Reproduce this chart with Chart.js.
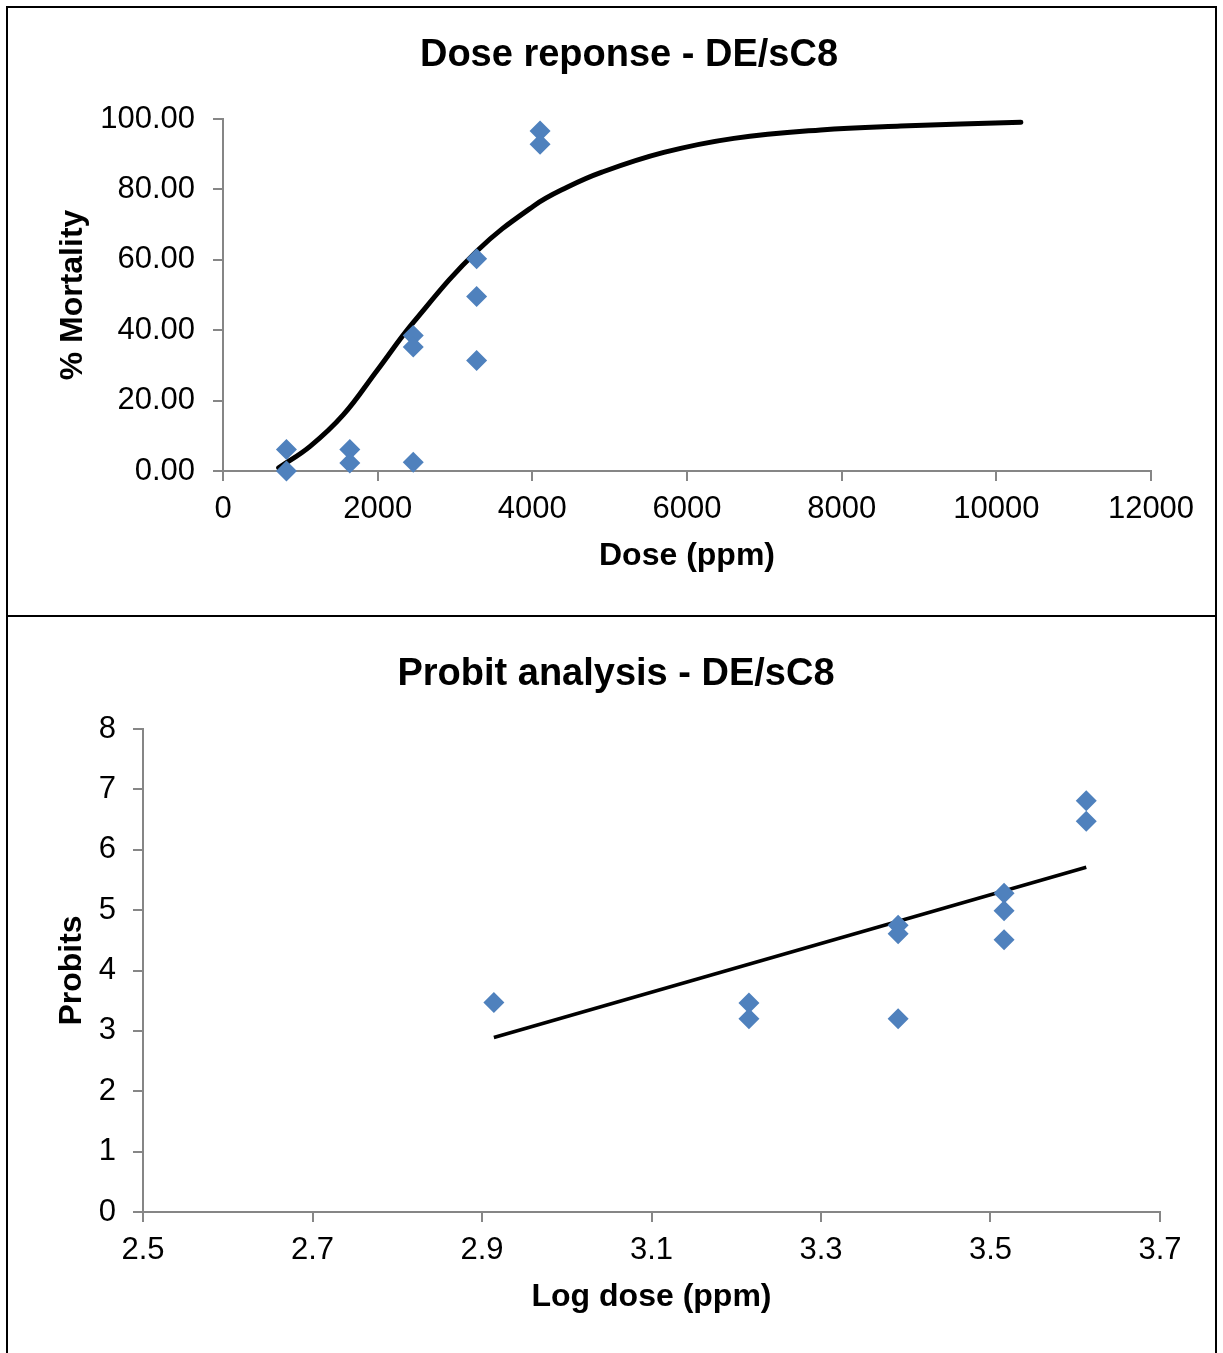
<!DOCTYPE html>
<html>
<head>
<meta charset="utf-8">
<script src="https://cdn.jsdelivr.net/npm/chart.js@4.4.1/dist/chart.umd.min.js"></script>
<style>
  html, body { margin:0; padding:0; background:#fff; width:1223px; height:1353px; overflow:hidden; }
  canvas { position:absolute; left:0; }
  #c1 { top:0; }
  #c2 { top:616px; }
  .frame { position:absolute; left:6px; top:6px; width:1211px; height:1400px; border:2px solid #000; box-sizing:border-box; }
  .divider { position:absolute; left:6px; top:615px; width:1211px; height:2px; background:#000; }
</style>
</head>
<body>
<canvas id="c1" width="1223" height="616"></canvas>
<canvas id="c2" width="1223" height="737"></canvas>
<div class="frame"></div>
<div class="divider"></div>
<script>
// ---------- Chart 1: Dose response ----------
const doseObs      = [820, 820, 1640, 1640, 2460, 2460, 2460, 3280, 3280, 3280, 4100, 4100];
const mortalityObs = [6.1, 0.0, 6.1, 2.3, 38.5, 35.2, 2.5, 60.3, 49.6, 31.4, 96.6, 92.8];
const curveDose      = [720, 1126, 1557, 1990, 2464, 3284, 4017, 4449, 4900, 5700, 6606, 7728, 8764, 10317];
const curveMortality = [0.9, 7.0, 16.0, 28.5, 42.3, 62.5, 75.3, 80.6, 84.9, 90.5, 94.5, 96.9, 98.0, 99.1];
const doseTicks      = [0, 2000, 4000, 6000, 8000, 10000, 12000];
const mortalityTicks = [0, 20, 40, 60, 80, 100];

// ---------- Chart 2: Probit analysis ----------
const logDoseObs = [2.914, 3.215, 3.215, 3.391, 3.391, 3.391, 3.516, 3.516, 3.516, 3.613, 3.613];
const probitObs  = [3.47, 3.46, 3.20, 4.75, 4.61, 3.20, 5.28, 4.99, 4.51, 6.81, 6.47];
const fitLogDose = [2.914, 3.613];
const fitProbit  = [2.89, 5.71];
const logDoseTicks = [2.5, 2.7, 2.9, 3.1, 3.3, 3.5, 3.7];
const probitTicks  = [0, 1, 2, 3, 4, 5, 6, 7, 8];

const FONT = "'Liberation Sans', Arial, Helvetica, sans-serif";
const AXIS = '#868686';
const BLUE = '#4F81BD';
Chart.defaults.font.family = FONT;
Chart.defaults.color = '#000';

const fixedTitle = {
  id: 'fixedTitle',
  afterDraw(chart, args, opts) {
    const ctx = chart.ctx;
    ctx.save();
    ctx.font = 'bold ' + opts.size + 'px ' + FONT;
    ctx.fillStyle = '#000';
    ctx.textAlign = 'center';
    ctx.textBaseline = 'alphabetic';
    ctx.fillText(opts.text, opts.x, opts.y);
    ctx.restore();
  }
};

function pts(xs, ys) { return xs.map((x, i) => ({ x: x, y: ys[i] })); }

function axis(ticksArr, fmt, fitFn, titleText, titlePad, tickPad) {
  return {
    type: 'linear',
    min: ticksArr[0],
    max: ticksArr[ticksArr.length - 1],
    afterBuildTicks: s => { s.ticks = ticksArr.map(v => ({ value: v })); },
    afterFit: fitFn,
    grid: { drawOnChartArea: false, drawTicks: true, tickLength: 10, color: AXIS, lineWidth: 2 },
    border: { display: true, color: AXIS, width: 2 },
    ticks: { color: '#000', font: { family: FONT, size: 31 }, padding: tickPad, maxRotation: 0, autoSkip: false,
             callback: v => fmt(v) },
    title: { display: true, text: titleText, color: '#000', font: { family: FONT, size: 32, weight: 'bold' }, padding: titlePad }
  };
}

new Chart(document.getElementById('c1'), {
  type: 'scatter',
  data: {
    datasets: [
      { label: 'Observed', data: pts(doseObs, mortalityObs), pointStyle: 'rectRot', pointRadius: 10.5,
        backgroundColor: BLUE, borderColor: BLUE, borderWidth: 0, clip: false },
      { label: 'Fitted', data: pts(curveDose, curveMortality), showLine: true, pointRadius: 0,
        borderColor: '#000', borderWidth: 5, tension: 0.4, fill: false, clip: false,
        borderCapStyle: 'round', borderJoinStyle: 'round' }
    ]
  },
  options: {
    responsive: false, animation: false,
    layout: { padding: { left: 0, right: 72, top: 119, bottom: 0 } },
    plugins: { legend: { display: false }, tooltip: { enabled: false },
               fixedTitle: { text: 'Dose reponse - DE/sC8', x: 629, y: 66, size: 38 } },
    scales: {
      x: axis(doseTicks, v => String(v), s => { s.height = 145; }, 'Dose (ppm)', { top: 0, bottom: 41 }, 10),
      y: axis(mortalityTicks, v => v.toFixed(2), s => { s.width = 223; }, '% Mortality', { top: 54, bottom: 0 }, 18)
    }
  },
  plugins: [fixedTitle]
});

new Chart(document.getElementById('c2'), {
  type: 'scatter',
  data: {
    datasets: [
      { label: 'Observed', data: pts(logDoseObs, probitObs), pointStyle: 'rectRot', pointRadius: 10.5,
        backgroundColor: BLUE, borderColor: BLUE, borderWidth: 0, clip: false },
      { label: 'Regression', data: pts(fitLogDose, fitProbit), showLine: true, pointRadius: 0,
        borderColor: '#000', borderWidth: 3.5, fill: false, clip: false }
    ]
  },
  options: {
    responsive: false, animation: false,
    layout: { padding: { left: 0, right: 63, top: 113, bottom: 0 } },
    plugins: { legend: { display: false }, tooltip: { enabled: false },
               fixedTitle: { text: 'Probit analysis - DE/sC8', x: 616, y: 69, size: 38 } },
    scales: {
      x: axis(logDoseTicks, v => v.toFixed(1), s => { s.height = 141; }, 'Log dose (ppm)', { top: 0, bottom: 37 }, 10),
      y: axis(probitTicks, v => String(v), s => { s.width = 143; }, 'Probits', { top: 53, bottom: 0 }, 17)
    }
  },
  plugins: [fixedTitle]
});
</script>
</body>
</html>
